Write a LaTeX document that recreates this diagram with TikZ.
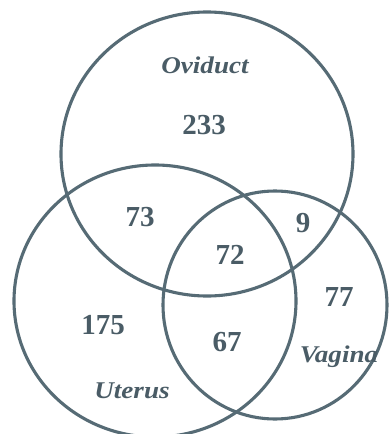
\documentclass[tikz,border=0pt]{standalone}
\usepackage{fontspec}
\setmainfont{Liberation Serif}
\newfontfamily\lblfont[FakeStretch=1.13]{Liberation Serif}
\definecolor{slate}{HTML}{566B75}
\definecolor{ink}{HTML}{4A5C66}
\begin{document}
\begin{tikzpicture}[x=1pt,y=-1pt,
  setline/.style={draw=slate,line width=3.1pt},
  num/.style={text=ink,font=\fontsize{29}{31}\selectfont\bfseries,inner sep=0pt,anchor=center},
  lbl/.style={text=ink,font=\lblfont\fontsize{24}{26}\selectfont\bfseries\itshape,inner sep=0pt,anchor=base}]
\useasboundingbox (0,0) rectangle (390,434);
\fill[white] (0,0) rectangle (390,434);
\draw[setline] (207,154) ellipse [x radius=146, y radius=142];
\draw[setline] (155,301) ellipse [x radius=141, y radius=136];
\draw[setline] (275,305) ellipse [x radius=112, y radius=114];
\node[lbl] (ovi) at (205,73) {Oviduct};
\node[num] (n233) at (204,125) {233};
\node[num] (n73) at (140,217) {73};
\node[num] (n9) at (303,223) {9};
\node[num] (n72) at (230,255) {72};
\node[num] (n77) at (339,297) {77};
\node[num] (n175) at (103,325) {175};
\node[num] (n67) at (227,342) {67};
\node[lbl] (vag) at (339,362) {Vagina};
\node[lbl] (ute) at (132,398) {Uterus};
\end{tikzpicture}
\end{document}
